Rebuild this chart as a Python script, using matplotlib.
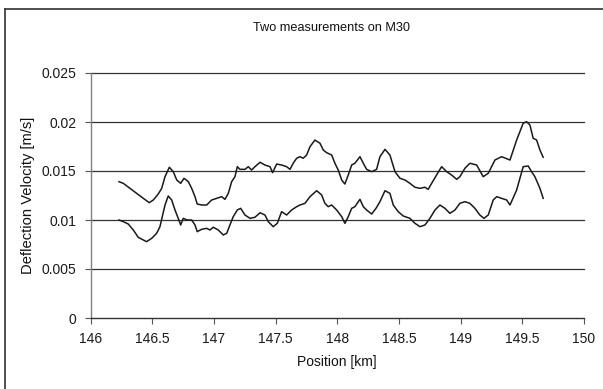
import matplotlib
matplotlib.use("Agg")
import matplotlib.pyplot as plt
from matplotlib.lines import Line2D

# ---- data ----
pos_a = [146.231, 146.266, 146.320, 146.374, 146.428, 146.476, 146.509, 146.549, 146.577, 146.604,
         146.639, 146.671, 146.699, 146.731, 146.758, 146.793, 146.820, 146.847, 146.865, 146.901,
         146.942, 146.982, 147.023, 147.063, 147.090, 147.117, 147.144, 147.171, 147.190, 147.211,
         147.252, 147.279, 147.306, 147.333, 147.374, 147.414, 147.455, 147.476, 147.509, 147.549,
         147.590, 147.617, 147.643, 147.671, 147.698, 147.724, 147.752, 147.779, 147.819, 147.860,
         147.887, 147.914, 147.955, 147.981, 148.008, 148.036, 148.062, 148.089, 148.117, 148.143,
         148.184, 148.211, 148.238, 148.279, 148.319, 148.346, 148.387, 148.427, 148.468, 148.508,
         148.549, 148.589, 148.630, 148.670, 148.711, 148.737, 148.765, 148.805, 148.846, 148.887,
         148.927, 148.968, 148.994, 149.035, 149.075, 149.130, 149.183, 149.224, 149.278, 149.332,
         149.400, 149.454, 149.507, 149.535, 149.562, 149.588, 149.616, 149.643, 149.669]
vel_a = [0.01391, 0.01374, 0.01323, 0.01272, 0.01221, 0.01177, 0.01204, 0.01265, 0.01323, 0.01442,
         0.01538, 0.01493, 0.01408, 0.01374, 0.01426, 0.01391, 0.01323, 0.01238, 0.01163, 0.01153,
         0.01153, 0.01204, 0.01221, 0.01238, 0.01211, 0.01272, 0.01391, 0.01442, 0.01544, 0.01517,
         0.01517, 0.01544, 0.01510, 0.01544, 0.01589, 0.01561, 0.01544, 0.01483, 0.01571, 0.01561,
         0.01544, 0.01517, 0.01579, 0.01630, 0.01646, 0.01630, 0.01663, 0.01748, 0.01816, 0.01783,
         0.01714, 0.01687, 0.01663, 0.01579, 0.01510, 0.01408, 0.01367, 0.01459, 0.01561, 0.01579,
         0.01646, 0.01579, 0.01517, 0.01493, 0.01517, 0.01646, 0.01721, 0.01663, 0.01493, 0.01426,
         0.01408, 0.01374, 0.01334, 0.01323, 0.01334, 0.01313, 0.01374, 0.01459, 0.01544, 0.01493,
         0.01459, 0.01415, 0.01442, 0.01528, 0.01579, 0.01561, 0.01442, 0.01477, 0.01612, 0.01646,
         0.01612, 0.01816, 0.01987, 0.02003, 0.01969, 0.01834, 0.01816, 0.01714, 0.01640]

pos_b = [146.231, 146.266, 146.306, 146.347, 146.387, 146.428, 146.455, 146.496, 146.536, 146.563,
         146.585, 146.604, 146.630, 146.658, 146.685, 146.711, 146.731, 146.752, 146.784, 146.820,
         146.847, 146.865, 146.901, 146.942, 146.968, 146.995, 147.036, 147.076, 147.104, 147.130,
         147.157, 147.190, 147.217, 147.252, 147.293, 147.333, 147.374, 147.414, 147.441, 147.481,
         147.514, 147.549, 147.590, 147.630, 147.671, 147.698, 147.738, 147.779, 147.833, 147.874,
         147.900, 147.927, 147.955, 147.995, 148.036, 148.062, 148.089, 148.117, 148.143, 148.184,
         148.211, 148.238, 148.279, 148.314, 148.346, 148.387, 148.427, 148.454, 148.494, 148.535,
         148.589, 148.630, 148.670, 148.711, 148.751, 148.792, 148.832, 148.873, 148.913, 148.954,
         148.994, 149.035, 149.075, 149.116, 149.156, 149.189, 149.224, 149.264, 149.292, 149.332,
         149.373, 149.400, 149.454, 149.507, 149.548, 149.575, 149.602, 149.643, 149.669]
vel_b = [0.01000, 0.00983, 0.00959, 0.00898, 0.00823, 0.00796, 0.00779, 0.00813, 0.00864, 0.00932,
         0.01051, 0.01153, 0.01245, 0.01204, 0.01102, 0.01017, 0.00949, 0.01017, 0.01000, 0.01000,
         0.00949, 0.00881, 0.00905, 0.00915, 0.00898, 0.00926, 0.00898, 0.00847, 0.00864, 0.00949,
         0.01034, 0.01102, 0.01119, 0.01051, 0.01017, 0.01028, 0.01074, 0.01051, 0.00983, 0.00932,
         0.00966, 0.01085, 0.01051, 0.01102, 0.01136, 0.01153, 0.01170, 0.01238, 0.01299, 0.01255,
         0.01170, 0.01136, 0.01153, 0.01102, 0.01034, 0.00966, 0.01034, 0.01119, 0.01136, 0.01211,
         0.01136, 0.01102, 0.01061, 0.01119, 0.01187, 0.01299, 0.01272, 0.01153, 0.01085, 0.01041,
         0.01017, 0.00966, 0.00932, 0.00949, 0.01017, 0.01102, 0.01153, 0.01119, 0.01068, 0.01102,
         0.01170, 0.01187, 0.01170, 0.01119, 0.01051, 0.01017, 0.01051, 0.01204, 0.01238, 0.01221,
         0.01204, 0.01153, 0.01306, 0.01544, 0.01551, 0.01493, 0.01442, 0.01323, 0.01221]

x_ticks = [146, 146.5, 147, 147.5, 148, 148.5, 149, 149.5, 150]
x_tick_labels = ["146", "146.5", "147", "147.5", "148", "148.5", "149", "149.5", "150"]
y_ticks = [0, 0.005, 0.01, 0.015, 0.02, 0.025]
y_tick_labels = ["0", "0.005", "0.01", "0.015", "0.02", "0.025"]

title = "Two measurements on M30"
x_label = "Position [km]"
y_label = "Deflection Velocity [m/s]"

# ---- figure ----
W, H = 603, 389
plt.rcParams['font.family'] = ['Liberation Sans', 'DejaVu Sans']
fig = plt.figure(figsize=(W / 100, H / 100), dpi=100)

L, R, T, B = 90.5, 584, 73, 318
ax = fig.add_axes([L / W, 1 - B / H, (R - L) / W, (B - T) / H])

ax.set_xlim(146, 150)
ax.set_ylim(0, 0.025)

for yv in y_ticks[1:]:
    ax.axhline(yv, color='#333333', lw=0.9, zorder=1, clip_on=False)

line_col = '#1a1a1a'
ax.plot(pos_a, vel_a, color=line_col, lw=1.1, zorder=3)
ax.plot(pos_b, vel_b, color=line_col, lw=1.1, zorder=3)

ax.set_xticks(x_ticks)
ax.set_xticklabels(x_tick_labels)
ax.set_yticks(y_ticks)
ax.set_yticklabels(y_tick_labels)

for s in ['top', 'right']:
    ax.spines[s].set_visible(False)
ax.spines['left'].set_color('#808080')
ax.spines['left'].set_linewidth(1.0)
ax.spines['bottom'].set_color('#333333')
ax.spines['bottom'].set_linewidth(1.0)

ax.tick_params(axis='x', direction='out', length=4, width=0.8, color='#555555',
               labelsize=10, labelcolor='#1a1a1a', pad=6)
ax.tick_params(axis='y', direction='out', length=4, width=0.8, color='#555555',
               labelsize=10, labelcolor='#1a1a1a', pad=6)

fig.text(331 / W, 1 - 28 / H, title, ha='center', va='center', fontsize=9.2, color='#111111')
fig.text(337 / W, 1 - 362 / H, x_label, ha='center', va='center', fontsize=10, color='#111111')
fig.text(28 / W, 1 - 195.5 / H, y_label, ha='center', va='center', rotation=90,
         fontsize=10.6, color='#111111')

# chart border (left and top visible)
fig.add_artist(Line2D([5 / W, 5 / W], [0, 1 - 9 / H], color='#333333', lw=1.2,
                      transform=fig.transFigure))
fig.add_artist(Line2D([5 / W, 1], [1 - 9 / H, 1 - 9 / H], color='#333333', lw=1.2,
                      transform=fig.transFigure))

fig.savefig('out.png', dpi=100)
